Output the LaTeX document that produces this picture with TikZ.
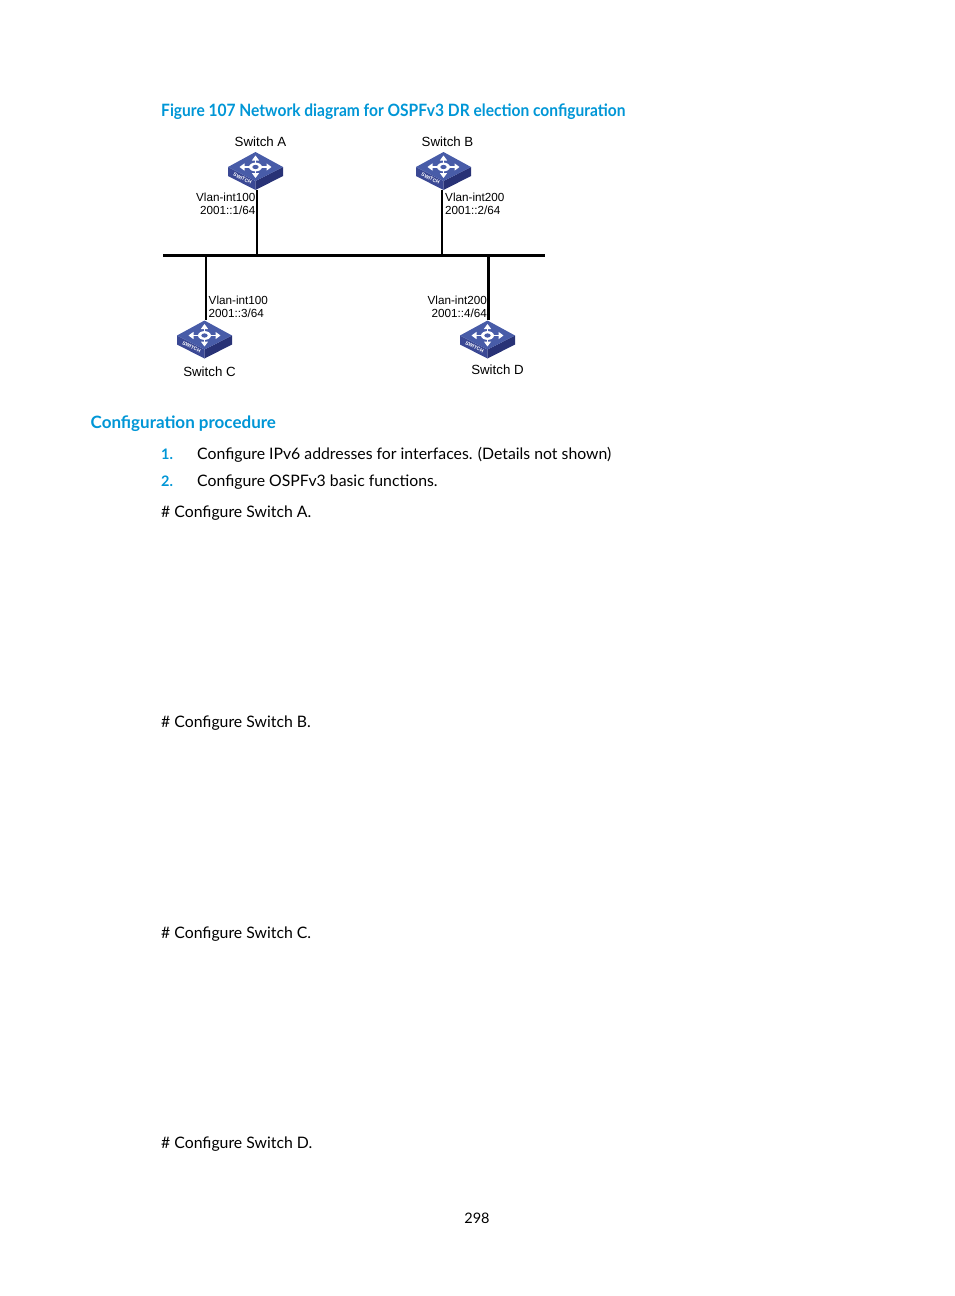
\documentclass[tikz,border=0pt]{standalone}
\usepackage{fontspec}
\setmainfont{Lato}
\newfontfamily\labelfont{Liberation Sans}
\newfontfamily\capfont[FakeStretch=0.915]{Lato}
\usetikzlibrary{arrows.meta}
\usetikzlibrary{positioning}
\definecolor{hpblue}{RGB}{0,150,214}
\definecolor{swtop}{RGB}{72,92,168}
\definecolor{swleft}{RGB}{58,72,148}
\definecolor{swright}{RGB}{40,50,118}
\tikzset{
	switchicon/.pic={
		\fill[swleft] (-27.5,-4) -- (0,10) -- (0,19) -- (-27.5,5) -- cycle;
		\fill[swright] (27.5,-4) -- (0,10) -- (0,19) -- (27.5,5) -- cycle;
		\fill[swtop] (0,-19) -- (27.5,-4) -- (0,10) -- (-27.5,-4) -- cycle;
		\draw[white, line width=1.6, {Triangle[width=7pt,length=5pt]}-{Triangle[width=7pt,length=5pt]}] (-16,-4) -- (16,-4);
		\draw[white, line width=1.6, {Triangle[width=7pt,length=5pt]}-{Triangle[width=7pt,length=5pt]}] (0,-15.5) -- (0,7);
		\fill[white] (0,-4) ellipse (6.5 and 4.4);
		\fill[swtop] (0,-4) ellipse (3.2 and 2.1);
		\node[white, rotate=-27, font=\labelfont\bfseries\fontsize{5}{6}\selectfont, inner sep=0] at (-13,7.5) {SWITCH};
	},
	swbox/.style={minimum width=55pt, minimum height=38pt, inner sep=0},
	swlabel/.style={font=\labelfont\fontsize{13.3}{15}\selectfont, inner sep=0},
	iflabel/.style={font=\labelfont\fontsize{11.7}{13}\selectfont, inner sep=0},
	bodytext/.style={anchor=base west, inner sep=0, font=\fontsize{15.8}{19}\selectfont},
	headtext/.style={anchor=base west, inner sep=0, text=hpblue, font=\bfseries\fontsize{17}{20}\selectfont},
	numtext/.style={anchor=base west, inner sep=0, text=hpblue, font=\bfseries\fontsize{14.5}{17}\selectfont},
	thinlink/.style={line width=1.8pt},
	thicklink/.style={line width=2.8pt},
}
\begin{document}
\begin{tikzpicture}[x=1pt, y=-1pt, node distance=5pt and 3pt]
	\useasboundingbox (0,0) rectangle (954,1296);
	
	% Caption
	\node (caption) [headtext, font=\capfont\bfseries\fontsize{17}{20}\selectfont] at (161,116) {Figure 107 Network diagram for OSPFv3 DR election configuration};
	
	% Switches
	\node (swA) [swbox] at (255.5,171) {};
	\node (swB) [swbox] at (443.5,171) {};
	\node (swC) [swbox] at (204.5,339.5) {};
	\node (swD) [swbox] at (487.5,339.5) {};
	\foreach \sw in {swA,swB,swC,swD}
		\pic at (\sw) {switchicon};
	
	% Switch names
	\node (nameA) [swlabel] at (260.5,141.5) {Switch A};
	\node (nameB) [swlabel] at (447.5,141.5) {Switch B};
	\node (nameC) [swlabel] at (209.5,371.5) {Switch C};
	\node (nameD) [swlabel] at (497.5,369.5) {Switch D};
	
	% Bus
	\coordinate (busL) at (163,255.5);
	\coordinate (busR) at (545,255.5);
	\draw[thicklink] (busL) -- (busR);
	
	% Links from switches to bus
	\coordinate (dropA) at (257,255.5);
	\coordinate (dropB) at (442,255.5);
	\coordinate (dropC) at (206,255.5);
	\coordinate (dropD) at (488.5,255.5);
	\draw[thinlink] (dropA|-swA.south) -- (dropA);
	\draw[thinlink] (dropB|-swB.south) -- (dropB);
	\draw[thinlink] (dropC) -- (dropC|-swC.north);
	\draw[thicklink] (dropD) -- (dropD|-swD.north);
	
	% Interface labels
	\node (ifA) [iflabel, align=right, anchor=east] at (255.5,203.5) {Vlan-int100\\2001::1/64};
	\node (ifB) [iflabel, align=left, anchor=west] at (445,203.5) {Vlan-int200\\2001::2/64};
	\node (ifC) [iflabel, align=left, anchor=west] at (208.5,306.5) {Vlan-int100\\2001::3/64};
	\node (ifD) [iflabel, align=right, anchor=east] at (487,306.5) {Vlan-int200\\2001::4/64};
	
	% Body text
	\node (head) [headtext] at (90.5,428.5) {Configuration procedure};
	\node (num1) [numtext] at (161,459.5) {1.};
	\node (step1) [bodytext] at (197,459.5) {Configure IPv6 addresses for interfaces. (Details not shown)};
	\node (num2) [numtext] at (161,486.5) {2.};
	\node (step2) [bodytext] at (197,486.5) {Configure OSPFv3 basic functions.};
	\node (cfgA) [bodytext] at (161,517.5) {\# Configure Switch A.};
	\node (cfgB) [bodytext] at (161,727.5) {\# Configure Switch B.};
	\node (cfgC) [bodytext] at (161,938.5) {\# Configure Switch C.};
	\node (cfgD) [bodytext] at (161,1148.5) {\# Configure Switch D.};
	\node (pagenum) [inner sep=0, font=\fontsize{14.5}{17}\selectfont] at (477,1218) {298};
\end{tikzpicture}
\end{document}
